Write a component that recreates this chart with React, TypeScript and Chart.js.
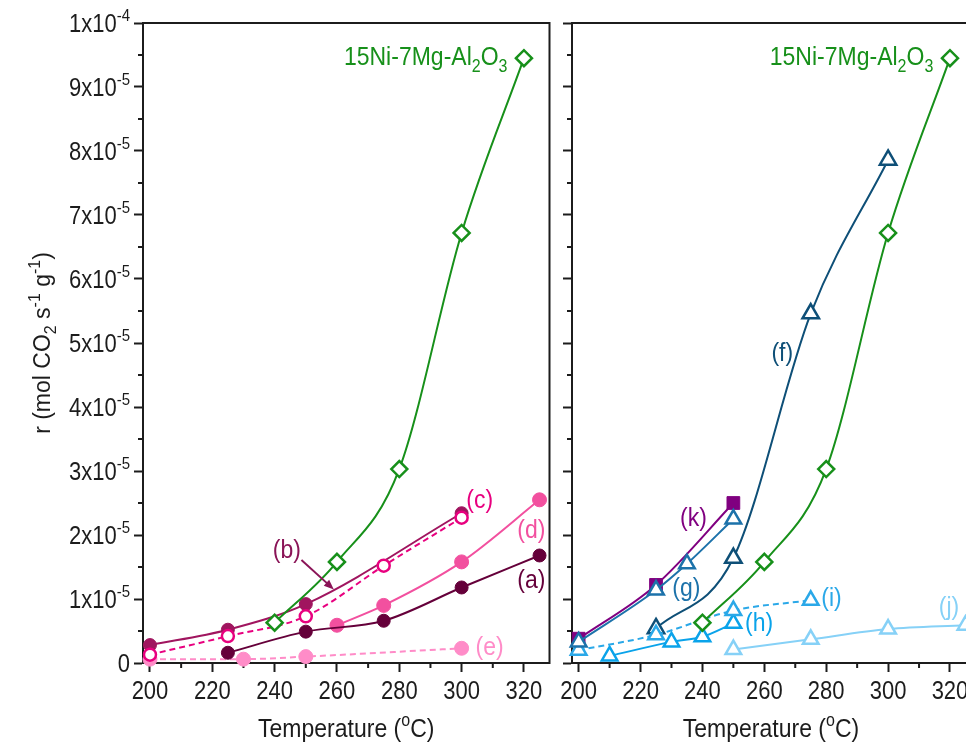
import React, { useEffect, useRef } from 'react';
import { Chart, registerables } from 'chart.js';

Chart.register(...registerables);

const SCALE = 1e-5;
const FONT = "'Liberation Sans', Arial, Helvetica, sans-serif";
const INK = '#1c1c1c';
const STRETCH = 1.15; // reference glyphs are slightly taller than wide

// Temperature (ºC) and rate r in units of 1e-5 mol CO2 s^-1 g^-1
const greenT = [240, 260, 280, 300, 320];
const greenR = [0.63, 1.58, 3.03, 6.72, 9.45];
const aT = [225, 250, 275, 300, 325];
const aR = [0.16, 0.49, 0.66, 1.18, 1.68];
const bT = [200, 225, 250, 300];
const bR = [0.28, 0.52, 0.92, 2.34];
const cT = [200, 225, 250, 275, 300];
const cR = [0.13, 0.42, 0.73, 1.52, 2.27];
const dT = [260, 275, 300, 325];
const dR = [0.59, 0.9, 1.58, 2.55];
const eT = [200, 230, 250, 300];
const eR = [0.06, 0.06, 0.1, 0.23];
const kT = [200, 225, 250];
const kR = [0.38, 1.22, 2.5];
const gT = [200, 225, 235, 250];
const gR = [0.33, 1.14, 1.55, 2.25];
const fT = [225, 250, 275, 300];
const fR = [0.54, 1.64, 5.46, 7.86];
const hT = [210, 230, 240, 250];
const hR = [0.11, 0.33, 0.41, 0.62];
const iT = [200, 225, 250, 275];
const iR = [0.2, 0.44, 0.82, 0.98];
const jT = [250, 275, 300, 325];
const jR = [0.21, 0.37, 0.53, 0.59];

const xTicks = [200, 220, 240, 260, 280, 300, 320];
const xMinor = [210, 230, 250, 270, 290, 310];
const yTicks = [0, 1, 2, 3, 4, 5, 6, 7, 8, 9, 10];
const yMinor = [0.5, 1.5, 2.5, 3.5, 4.5, 5.5, 6.5, 7.5, 8.5, 9.5];

const GREEN = '#17901a';
const COL = {
  a: '#65003a',
  b: '#a0155f',
  bLabel: '#8a1457',
  c: '#e8007f',
  d: '#f2509f',
  e: '#ff8cc8',
  k: '#800080',
  g: '#1c72aa',
  f: '#0e4f77',
  h: '#0aa3ea',
  i: '#2aa8e8',
  j: '#86d1f7',
};

type Seg = [string, '' | 'sub' | 'sup'];
type Label = { segs: Seg[]; t: number; v: number; color: string; align: 'left' | 'center' | 'right' };

const catalystName: Seg[] = [['15Ni-7Mg-Al', ''], ['2', 'sub'], ['O', ''], ['3', 'sub']];
const yTitle: Seg[] = [['r (mol CO', ''], ['2', 'sub'], [' s', ''], ['-1', 'sup'], [' g', ''], ['-1', 'sup'], [')', '']];
const xTitle: Seg[] = [['Temperature (', ''], ['o', 'sup'], ['C)', '']];

const leftLabels: Label[] = [
  { segs: catalystName, t: 314.7, v: 9.34, color: GREEN, align: 'right' },
  { segs: [['(a)', '']], t: 322.4, v: 1.17, color: COL.a, align: 'center' },
  { segs: [['(b)', '']], t: 243.9, v: 1.64, color: COL.bLabel, align: 'center' },
  { segs: [['(c)', '']], t: 305.8, v: 2.42, color: COL.c, align: 'center' },
  { segs: [['(d)', '']], t: 322.4, v: 1.95, color: COL.d, align: 'center' },
  { segs: [['(e)', '']], t: 309, v: 0.125, color: COL.e, align: 'center' },
];
const rightLabels: Label[] = [
  { segs: catalystName, t: 314.6, v: 9.34, color: GREEN, align: 'right' },
  { segs: [['(k)', '']], t: 237.1, v: 2.14, color: COL.k, align: 'center' },
  { segs: [['(g)', '']], t: 234.8, v: 1.05, color: COL.g, align: 'center' },
  { segs: [['(f)', '']], t: 265.8, v: 4.72, color: COL.f, align: 'center' },
  { segs: [['(h)', '']], t: 258.3, v: 0.5, color: COL.h, align: 'center' },
  { segs: [['(i)', '']], t: 281.7, v: 0.89, color: COL.i, align: 'center' },
  { segs: [['(j)', '']], t: 319.7, v: 0.75, color: COL.j, align: 'center' },
];
// arrow from label (b) to its curve: [t0, v0, t1, v1]
const bArrow = [248.6, 1.61, 259, 1.15];

function yTickSegs(k: number): Seg[] {
  if (k === 0) return [['0', '']];
  if (k === 10) return [['1x10', ''], ['-4', 'sup']];
  return [[`${k}x10`, ''], ['-5', 'sup']];
}

type Style = 'circle' | 'open' | 'rectRot' | 'triangle' | 'rect';
function series(T: number[], R: number[], color: string, style: Style, radius: number, dashed = false) {
  const open = style === 'open' || style === 'rectRot' || style === 'triangle';
  return {
    data: T.map((t, n) => ({ x: t, y: R[n] * SCALE })),
    borderColor: color,
    backgroundColor: color,
    borderWidth: 2,
    borderDash: dashed ? [6, 4] : [],
    pointStyle: style === 'open' ? 'circle' : style,
    pointRadius: radius,
    pointBackgroundColor: open ? '#ffffff' : color,
    pointBorderColor: color,
    pointBorderWidth: open ? 2.5 : 1,
    cubicInterpolationMode: 'monotone',
    clip: false,
  };
}

// draws text with sub/superscripts; (x, base) = anchor and baseline
function drawRich(ctx: CanvasRenderingContext2D, segs: Seg[], x: number, base: number, align: string, size: number, color: string, sy = STRETCH) {
  const small = Math.round(size * 0.68);
  let w = 0;
  const widths: number[] = [];
  for (const [t, m] of segs) {
    ctx.font = `${m ? small : size}px ${FONT}`;
    const ww = ctx.measureText(t).width;
    widths.push(ww);
    w += ww;
  }
  let cx = align === 'right' ? -w : align === 'center' ? -w / 2 : 0;
  ctx.save();
  ctx.translate(x, base);
  ctx.scale(1, sy);
  ctx.fillStyle = color;
  ctx.textBaseline = 'alphabetic';
  ctx.textAlign = 'left';
  segs.forEach(([t, m], n) => {
    ctx.font = `${m ? small : size}px ${FONT}`;
    const dy = m === 'sub' ? size * 0.24 : m === 'sup' ? -size * 0.42 : 0;
    ctx.fillText(t, cx, dy);
    cx += widths[n];
  });
  ctx.restore();
}

function decoPlugin(left: boolean, labels: Label[], arrow: number[] | null) {
  return {
    id: 'panelDeco',
    beforeDatasetsDraw(chart: any) {
      const { ctx, chartArea: a } = chart;
      const xs = chart.scales.x;
      const ys = chart.scales.y;
      ctx.save();
      ctx.strokeStyle = INK;
      ctx.lineWidth = 2;
      ctx.beginPath();
      ctx.moveTo(a.left - 1, a.top);
      ctx.lineTo(a.right, a.top);
      if (left) ctx.lineTo(a.right, a.bottom + 1);
      ctx.stroke();
      ctx.beginPath();
      for (const v of xMinor) {
        const px = xs.getPixelForValue(v);
        ctx.moveTo(px, a.bottom);
        ctx.lineTo(px, a.bottom + 5);
      }
      for (const v of yMinor) {
        const py = ys.getPixelForValue(v * SCALE);
        ctx.moveTo(a.left, py);
        ctx.lineTo(a.left - 5, py);
      }
      ctx.stroke();
      ctx.restore();
    },
    afterDatasetsDraw(chart: any) {
      const { ctx, chartArea: a } = chart;
      const xs = chart.scales.x;
      const ys = chart.scales.y;
      ctx.save();
      // x tick labels and title
      for (const v of xTicks) {
        drawRich(ctx, [[String(v), '']], xs.getPixelForValue(v), a.bottom + 36, 'center', 22, INK);
      }
      drawRich(ctx, xTitle, (a.left + a.right) / 2 - (left ? 0 : 5), 737, 'center', 23, INK);
      if (left) {
        for (const k of yTicks) {
          drawRich(ctx, yTickSegs(k), a.left - 13, ys.getPixelForValue(k * SCALE) + 9, 'right', 22, INK);
        }
        ctx.save();
        ctx.translate(50, (a.top + a.bottom) / 2);
        ctx.rotate(-Math.PI / 2);
        drawRich(ctx, yTitle, 0, 0, 'center', 23, INK, 1.08);
        ctx.restore();
      }
      for (const l of labels) {
        drawRich(ctx, l.segs, xs.getPixelForValue(l.t), ys.getPixelForValue(l.v * SCALE), l.align, 23, l.color);
      }
      if (arrow) {
        const x0 = xs.getPixelForValue(arrow[0]);
        const y0 = ys.getPixelForValue(arrow[1] * SCALE);
        const x1 = xs.getPixelForValue(arrow[2]);
        const y1 = ys.getPixelForValue(arrow[3] * SCALE);
        const ang = Math.atan2(y1 - y0, x1 - x0);
        ctx.strokeStyle = COL.bLabel;
        ctx.fillStyle = COL.bLabel;
        ctx.lineWidth = 2;
        ctx.beginPath();
        ctx.moveTo(x0, y0);
        ctx.lineTo(x1 - Math.cos(ang) * 6, y1 - Math.sin(ang) * 6);
        ctx.stroke();
        ctx.beginPath();
        ctx.moveTo(x1, y1);
        ctx.lineTo(x1 - Math.cos(ang) * 10 + Math.sin(ang) * 4, y1 - Math.sin(ang) * 10 - Math.cos(ang) * 4);
        ctx.lineTo(x1 - Math.cos(ang) * 10 - Math.sin(ang) * 4, y1 - Math.sin(ang) * 10 + Math.cos(ang) * 4);
        ctx.closePath();
        ctx.fill();
      }
      ctx.restore();
    },
  };
}

function makeOptions(left: boolean): any {
  return {
    animation: false,
    responsive: false,
    events: [],
    layout: { padding: { top: 23, right: left ? 10 : 20, bottom: 0, left: 0 } },
    plugins: { legend: { display: false }, tooltip: { enabled: false } },
    scales: {
      x: {
        type: 'linear',
        min: left ? 197.76 : 197.85,
        max: left ? 328.2 : 329.7,
        afterBuildTicks: (s: any) => {
          s.ticks = xTicks.map((v) => ({ value: v }));
        },
        afterFit: (s: any) => {
          s.height = 90;
        },
        grid: { display: true, drawOnChartArea: false, drawTicks: true, tickLength: 9, tickWidth: 2, tickColor: INK },
        border: { display: true, color: INK, width: 2 },
        ticks: { display: false },
        title: { display: false },
      },
      y: {
        type: 'linear',
        min: 0,
        max: 1e-4,
        afterBuildTicks: (s: any) => {
          s.ticks = yTicks.map((k) => ({ value: k * SCALE }));
        },
        afterFit: (s: any) => {
          s.width = left ? 143 : 10;
        },
        grid: { display: true, drawOnChartArea: false, drawTicks: true, tickLength: 9, tickWidth: 2, tickColor: INK },
        border: { display: true, color: INK, width: 2 },
        ticks: { display: false },
        title: { display: false },
      },
    },
  };
}

export default function App() {
  const leftRef = useRef<HTMLCanvasElement>(null);
  const rightRef = useRef<HTMLCanvasElement>(null);

  useEffect(() => {
    const leftChart = new Chart(leftRef.current as HTMLCanvasElement, {
      type: 'line',
      data: {
        datasets: [
          series(greenT, greenR, GREEN, 'rectRot', 8),
          series(cT, cR, COL.c, 'open', 6, true),
          series(bT, bR, COL.b, 'circle', 6.5),
          series(aT, aR, COL.a, 'circle', 6.5),
          series(dT, dR, COL.d, 'circle', 7),
          series(eT, eR, COL.e, 'circle', 7, true),
        ] as any,
      },
      options: makeOptions(true),
      plugins: [decoPlugin(true, leftLabels, bArrow)],
    });
    const rightChart = new Chart(rightRef.current as HTMLCanvasElement, {
      type: 'line',
      data: {
        datasets: [
          series(greenT, greenR, GREEN, 'rectRot', 8),
          series(gT, gR, COL.g, 'triangle', 9),
          series(kT, kR, COL.k, 'rect', 9),
          series(iT, iR, COL.i, 'triangle', 9, true),
          series(hT, hR, COL.h, 'triangle', 9),
          series(fT, fR, COL.f, 'triangle', 9.5),
          series(jT, jR, COL.j, 'triangle', 9),
        ] as any,
      },
      options: makeOptions(false),
      plugins: [decoPlugin(false, rightLabels, null)],
    });
    return () => {
      leftChart.destroy();
      rightChart.destroy();
    };
  }, []);

  return (
    <div
      style={{
        position: 'absolute',
        left: 0,
        top: 0,
        width: 966,
        height: 753,
        overflow: 'hidden',
        background: '#ffffff',
      }}
    >
      <canvas ref={leftRef} width={560} height={753} style={{ position: 'absolute', left: 0, top: 0 }} />
      <canvas ref={rightRef} width={440} height={753} style={{ position: 'absolute', left: 560, top: 0 }} />
    </div>
  );
}
